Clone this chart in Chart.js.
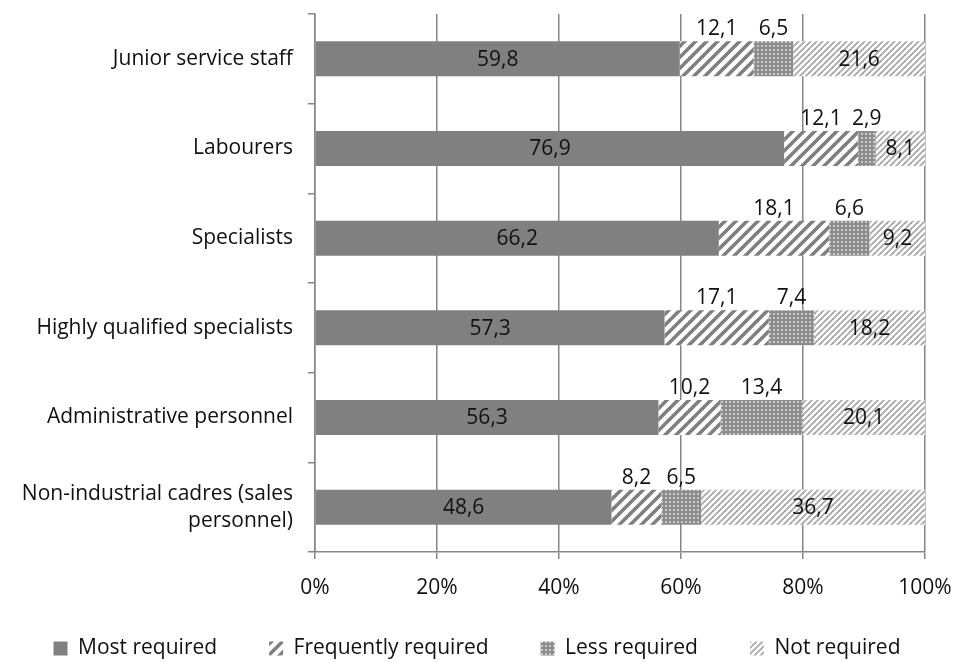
<!DOCTYPE html>
<html>
<head>
<meta charset="utf-8">
<script src="https://cdn.jsdelivr.net/npm/chart.js@4"></script>
<style>
  html, body { margin: 0; padding: 0; background: #fff; }
  #wrap { width: 954px; height: 662px; }
</style>
</head>
<body>
<div id="wrap"><canvas id="myChart"></canvas></div>
<script>
// categories, top to bottom
let categories = [
	"Junior service staff",
	"Labourers",
	"Specialists",
	"Highly qualified specialists",
	"Administrative personnel",
	["Non-industrial cadres (sales", "personnel)"]
];
let seriesNames = ["Most required", "Frequently required", "Less required", "Not required"];
let mostRequired = [59.8, 76.9, 66.2, 57.3, 56.3, 48.6];
let frequentlyRequired = [12.1, 12.1, 18.1, 17.1, 10.2, 8.2];
let lessRequired = [6.5, 2.9, 6.6, 7.4, 13.4, 6.5];
let notRequired = [21.6, 8.1, 9.2, 18.2, 20.1, 36.7];
let xTicks = [0, 20, 40, 60, 80, 100];

const FONT = "'Open Sans', sans-serif";
const FSIZE = 21;
const GRID = "#868686";

// fill patterns, like the Excel ones
function makePattern(size, draw) {
	let c = document.createElement("canvas");
	c.width = size; c.height = size;
	let g = c.getContext("2d");
	draw(g, size);
	return document.getElementById("myChart").getContext("2d").createPattern(c, "repeat");
}

function diagonal(color, width) {
	return function(g, s) {
		g.fillStyle = "#fff";
		g.fillRect(0, 0, s, s);
		g.strokeStyle = color;
		g.lineWidth = width;
		for (let k = -1; k <= 1; k++) {
			g.beginPath();
			g.moveTo(k * s - 1, s + 1);
			g.lineTo(k * s + s + 1, -1);
			g.stroke();
		}
	};
}

let wideStripes = makePattern(11, diagonal("#7f7f7f", 3.6));
let fineStripes = makePattern(6, diagonal("#a8a8a8", 1.8));
let dots = makePattern(4, function(g, s) {
	g.fillStyle = "#8c8c8c";
	g.fillRect(0, 0, s, s);
	g.fillStyle = "#c9c9c9";
	g.fillRect(1, 1, 2, 2);
});

// value labels: first and last series inside, the two middle ones above the bar
const valueLabels = {
	id: "valueLabels",
	afterDatasetsDraw(chart) {
		let ctx = chart.ctx;
		ctx.save();
		ctx.font = FSIZE + "px " + FONT;
		ctx.fillStyle = "#111";
		ctx.textAlign = "center";
		ctx.textBaseline = "middle";
		chart.data.datasets.forEach(function(ds, i) {
			let meta = chart.getDatasetMeta(i);
			meta.data.forEach(function(bar, j) {
				let text = ds.data[j].toFixed(1).replace(".", ",");
				let x = (bar.x + bar.base) / 2;
				let y = bar.y;
				if (i === 1 || i === 2) y = bar.y - bar.height / 2 - 13;
				ctx.fillText(text, x, y + 1);
			});
		});
		ctx.restore();
	}
};

let fills = ["#808080", wideStripes, dots, fineStripes];
let values = [mostRequired, frequentlyRequired, lessRequired, notRequired];

var ctx = document.getElementById("myChart").getContext("2d");
var myChart = new Chart(ctx, {
	type: "bar",
	data: {
		labels: categories,
		datasets: seriesNames.map(function(name, i) {
			return {
				label: name,
				data: values[i],
				backgroundColor: fills[i],
				borderWidth: 0,
				categoryPercentage: 1,
				barPercentage: 0.39
			};
		})
	},
	options: {
		indexAxis: "y",
		responsive: true,
		maintainAspectRatio: false,
		animation: false,
		layout: { padding: { top: 14, right: 0, left: 0, bottom: 0 } },
		scales: {
			x: {
				stacked: true,
				min: 0,
				max: 100,
				afterBuildTicks(scale) {
					scale.ticks = xTicks.map(v => ({ value: v }));
				},
				// mirrored labels are not clipped to the axis box, so the box can stay short;
				// the negative padding pushes them back below the axis
				afterFit(scale) {
					scale.height = 34;
					scale.paddingRight = 29;
				},
				grid: { color: GRID, lineWidth: 1.5, tickLength: 7 },
				border: { color: GRID, width: 1.5 },
				ticks: {
					mirror: true,
					color: "#111",
					font: { family: FONT, size: FSIZE },
					padding: -49,
					callback: v => v + "%"
				}
			},
			y: {
				stacked: true,
				afterFit(scale) {
					scale.width = 315;
					scale.paddingTop = 0;
					scale.paddingBottom = 0;
				},
				grid: { drawOnChartArea: false, color: GRID, lineWidth: 1.5, tickLength: 7 },
				border: { color: GRID, width: 1.5 },
				ticks: {
					color: "#111",
					font: { family: FONT, size: FSIZE, lineHeight: 1.3 },
					padding: 15
				}
			}
		},
		plugins: {
			legend: {
				position: "bottom",
				maxHeight: 76,
				labels: {
					color: "#111",
					font: { family: FONT, size: FSIZE },
					boxWidth: 14,
					boxHeight: 14,
					padding: 52
				}
			},
			tooltip: { enabled: false }
		}
	},
	plugins: [valueLabels]
});
</script>
</body>
</html>
